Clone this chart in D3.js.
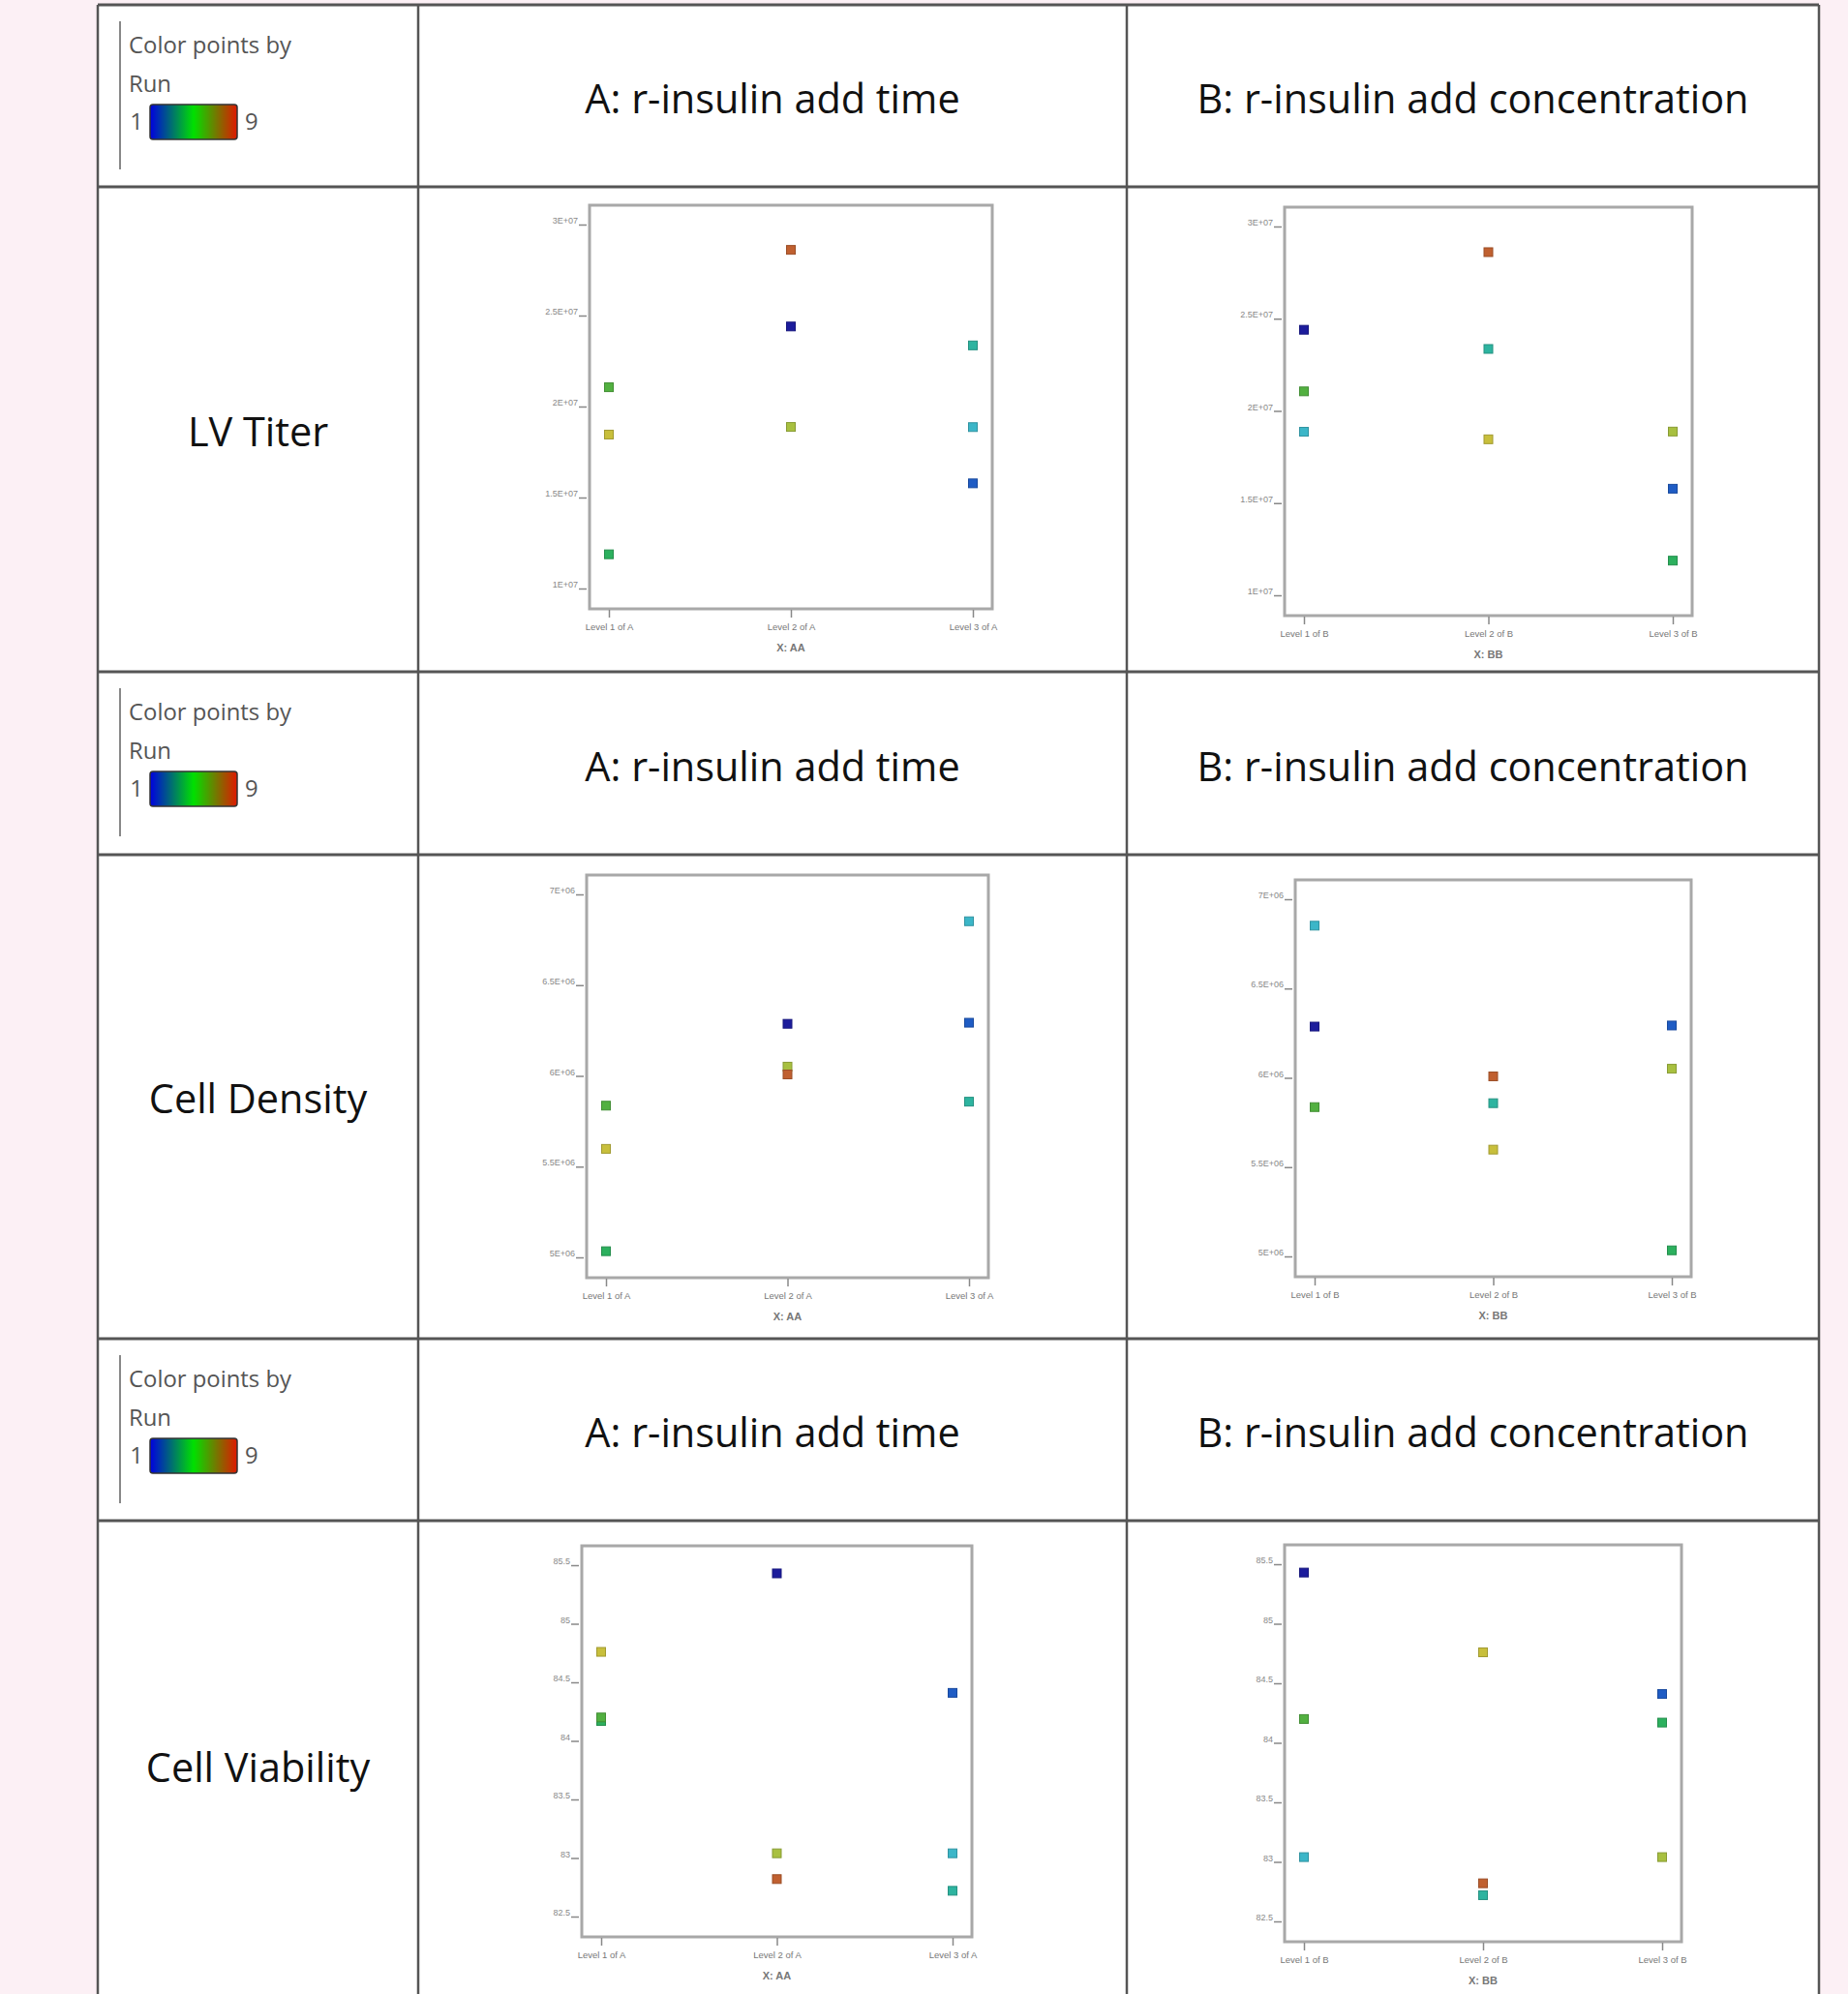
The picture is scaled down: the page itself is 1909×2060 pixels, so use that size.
<!DOCTYPE html>
<html>
<head>
<meta charset="utf-8">
<script src="https://cdn.jsdelivr.net/npm/d3@7"></script>
<style>
  body { margin: 0; background: #fcf0f5; }
  svg { display: block; }
</style>
</head>
<body>
<div id="chart"></div>
<script>
// runs of the 3x3 design
var runs = [1, 2, 3, 4, 5, 6, 7, 8, 9];
var levelA = [2, 3, 3, 3, 1, 1, 2, 1, 2];
var levelB = [1, 3, 1, 2, 3, 1, 3, 2, 2];
var lvTiter = [2.44e7, 1.578e7, 1.887e7, 2.336e7, 1.188e7, 2.106e7, 1.888e7, 1.846e7, 2.861e7];
var cellDensity = [6.287e6, 6.293e6, 6.852e6, 5.858e6, 5.034e6, 5.836e6, 6.051e6, 5.598e6, 6.008e6];
var cellViability = [85.43, 84.41, 83.04, 82.72, 84.17, 84.20, 83.04, 84.76, 82.82];

var titerTicks = [1e7, 1.5e7, 2e7, 2.5e7, 3e7];
var titerLabels = ["1E+07", "1.5E+07", "2E+07", "2.5E+07", "3E+07"];
var densityTicks = [5e6, 5.5e6, 6e6, 6.5e6, 7e6];
var densityLabels = ["5E+06", "5.5E+06", "6E+06", "6.5E+06", "7E+06"];
var viabilityTicks = [82.5, 83, 83.5, 84, 84.5, 85, 85.5];
var viabilityLabels = ["82.5", "83", "83.5", "84", "84.5", "85", "85.5"];

var levelsA = ["Level 1 of A", "Level 2 of A", "Level 3 of A"];
var levelsB = ["Level 1 of B", "Level 2 of B", "Level 3 of B"];
var headerA = "A: r-insulin add time";
var headerB = "B: r-insulin add concentration";
var responses = ["LV Titer", "Cell Density", "Cell Viability"];

var width = 1909, height = 2060;
var colX = [101, 432, 1164, 1879];
var rowY = [5, 193, 694, 883, 1383, 1571, 2076];

// colour by run
var runColor = d3.scaleLinear()
    .domain([1, 2, 3, 4, 5, 6, 7, 8, 9])
    .range(["#1c1c9c", "#1f5cc4", "#3cb6c8", "#2eb4a0", "#2cb05e", "#52b040", "#a8c040", "#c8bf3c", "#c06030"]);

var svg = d3.select("#chart")
    .append("svg")
    .attr("width", width)
    .attr("height", height);

var defs = svg.append("defs");
var grad = defs.append("linearGradient").attr("id", "runGrad");
grad.append("stop").attr("offset", "0%").attr("stop-color", "#0000e0");
grad.append("stop").attr("offset", "50%").attr("stop-color", "#00e000");
grad.append("stop").attr("offset", "100%").attr("stop-color", "#e01800");

svg.append("rect").attr("width", width).attr("height", height).attr("fill", "#fcf0f5");
svg.append("rect")
    .attr("x", colX[0]).attr("y", rowY[0])
    .attr("width", colX[3] - colX[0]).attr("height", height)
    .attr("fill", "#fff");

// table grid
rowY.slice(0, 6).forEach(function (y) {
    svg.append("line")
        .attr("x1", colX[0]).attr("x2", colX[3])
        .attr("y1", y).attr("y2", y)
        .attr("stroke", "#555").attr("stroke-width", 3);
});
colX.forEach(function (x) {
    svg.append("line")
        .attr("x1", x).attr("x2", x)
        .attr("y1", rowY[0]).attr("y2", height)
        .attr("stroke", "#555").attr("stroke-width", 2.5);
});

function fitWidth(sel, w) {
    var len = sel.node().getComputedTextLength();
    var fs = parseFloat(sel.attr("font-size"));
    sel.attr("font-size", fs * w / len);
    return fs * w / len;
}

// measure header font size once
var probe = svg.append("text").attr("font-family", "Open Sans").attr("font-size", 30).text(headerB);
var bigSize = fitWidth(probe, 570);
probe.remove();
var probe2 = svg.append("text").attr("font-family", "Open Sans").attr("font-size", 20).text("Color points by");
var legSize = fitWidth(probe2, 168);
probe2.remove();

// header rows: legend + factor titles
[0, 2, 4].forEach(function (r) {
    var top = rowY[r], cy = (rowY[r] + rowY[r + 1]) / 2;
    var leg = svg.append("g").attr("transform", "translate(0," + top + ")");
    leg.append("line")
        .attr("x1", 124).attr("x2", 124).attr("y1", 17).attr("y2", 170)
        .attr("stroke", "#888").attr("stroke-width", 2);
    leg.append("text").attr("x", 133).attr("y", 50)
        .attr("font-family", "Open Sans").attr("font-size", legSize).attr("fill", "#555")
        .text("Color points by");
    leg.append("text").attr("x", 133).attr("y", 90)
        .attr("font-family", "Open Sans").attr("font-size", legSize).attr("fill", "#555")
        .text("Run");
    leg.append("text").attr("x", 148).attr("y", 129).attr("text-anchor", "end")
        .attr("font-family", "Open Sans").attr("font-size", legSize).attr("fill", "#555")
        .text(runs[0]);
    leg.append("rect").attr("x", 155).attr("y", 103).attr("width", 90).attr("height", 36)
        .attr("rx", 3).attr("fill", "url(#runGrad)").attr("stroke", "#333").attr("stroke-width", 1.5);
    leg.append("text").attr("x", 253).attr("y", 129)
        .attr("font-family", "Open Sans").attr("font-size", legSize).attr("fill", "#555")
        .text(runs[runs.length - 1]);

    svg.append("text")
        .attr("x", (colX[1] + colX[2]) / 2).attr("y", cy).attr("dy", "0.44em")
        .attr("text-anchor", "middle")
        .attr("font-family", "Open Sans").attr("font-size", bigSize).attr("fill", "#111")
        .text(headerA);
    svg.append("text")
        .attr("x", (colX[2] + colX[3]) / 2).attr("y", cy).attr("dy", "0.44em")
        .attr("text-anchor", "middle")
        .attr("font-family", "Open Sans").attr("font-size", bigSize).attr("fill", "#111")
        .text(headerB);
});

// response labels
[1, 3, 5].forEach(function (r, i) {
    svg.append("text")
        .attr("x", (colX[0] + colX[1]) / 2).attr("y", (rowY[r] + rowY[r + 1]) / 2).attr("dy", "0.42em")
        .attr("text-anchor", "middle")
        .attr("font-family", "Open Sans").attr("font-size", bigSize).attr("fill", "#111")
        .text(responses[i]);
});

// the six small plots: frame boxes [left, top, right, bottom]
var panels = [
    { values: lvTiter, level: levelA, names: levelsA, title: "X: AA", ticks: titerTicks, labels: titerLabels, box: [609, 212, 1025, 629] },
    { values: lvTiter, level: levelB, names: levelsB, title: "X: BB", ticks: titerTicks, labels: titerLabels, box: [1327, 214, 1748, 636] },
    { values: cellDensity, level: levelA, names: levelsA, title: "X: AA", ticks: densityTicks, labels: densityLabels, box: [606, 904, 1021, 1320] },
    { values: cellDensity, level: levelB, names: levelsB, title: "X: BB", ticks: densityTicks, labels: densityLabels, box: [1338, 909, 1747, 1319] },
    { values: cellViability, level: levelA, names: levelsA, title: "X: AA", ticks: viabilityTicks, labels: viabilityLabels, box: [601, 1597, 1004, 2001] },
    { values: cellViability, level: levelB, names: levelsB, title: "X: BB", ticks: viabilityTicks, labels: viabilityLabels, box: [1327, 1596, 1737, 2006] }
];

panels.forEach(function (p) {
    var b = p.box;
    var x = d3.scalePoint().domain([1, 2, 3]).range([b[0] + 20, b[2] - 20]);
    var y = d3.scaleLinear()
        .domain([p.ticks[0], p.ticks[p.ticks.length - 1]])
        .range([b[3] - 21, b[1] + 20]);

    var g = svg.append("g");
    g.append("rect")
        .attr("x", b[0]).attr("y", b[1])
        .attr("width", b[2] - b[0]).attr("height", b[3] - b[1])
        .attr("fill", "#fff").attr("stroke", "#a8a8a8").attr("stroke-width", 3);

    var ya = g.append("g")
        .attr("transform", "translate(" + (b[0] - 3) + ",0)")
        .call(d3.axisLeft(y).tickValues(p.ticks)
            .tickFormat(function (d, i) { return p.labels[i]; })
            .tickSize(8).tickPadding(1));
    ya.select(".domain").remove();
    ya.selectAll("line").attr("stroke", "#888").attr("stroke-width", 1.5);
    ya.selectAll("text").attr("dy", "-0.15em")
        .attr("font-family", "Liberation Sans").attr("font-size", 9).attr("fill", "#888");

    var xa = g.append("g")
        .attr("transform", "translate(0," + (b[3] + 1) + ")")
        .call(d3.axisBottom(x).tickFormat(function (d) { return p.names[d - 1]; })
            .tickSize(8).tickPadding(6));
    xa.select(".domain").remove();
    xa.selectAll("line").attr("stroke", "#888").attr("stroke-width", 1.5);
    xa.selectAll("text")
        .attr("font-family", "Liberation Sans").attr("font-size", 9.5).attr("fill", "#777");

    g.append("text")
        .attr("x", (b[0] + b[2]) / 2).attr("y", b[3] + 44)
        .attr("text-anchor", "middle")
        .attr("font-family", "Liberation Sans").attr("font-size", 11).attr("font-weight", "bold").attr("fill", "#777")
        .text(p.title);

    var pts = runs.map(function (r, i) { return { run: r, level: p.level[i], value: p.values[i] }; });
    g.selectAll(".pt")
        .data(pts)
        .enter()
        .append("rect")
        .attr("class", "pt")
        .attr("x", function (d) { return x(d.level) - 4.5; })
        .attr("y", function (d) { return y(d.value) - 4.5; })
        .attr("width", 9)
        .attr("height", 9)
        .attr("fill", function (d) { return runColor(d.run); })
        .attr("stroke", function (d) { return d3.color(runColor(d.run)).darker(0.6); })
        .attr("stroke-width", 1);
});
</script>
</body>
</html>
